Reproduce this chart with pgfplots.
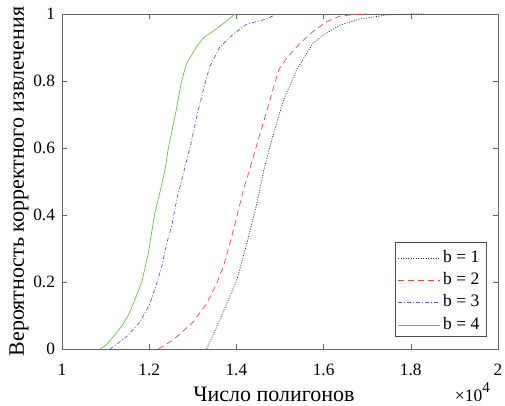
\documentclass[border=0pt]{standalone}
\usepackage{fontspec}
\setmainfont{Liberation Serif}
\usepackage{pgfplots}
\pgfplotsset{compat=1.18}

\definecolor{cb1}{RGB}{40,40,40}
\definecolor{cb2}{RGB}{238,70,70}
\definecolor{cb3}{RGB}{90,90,205}
\definecolor{cb4}{RGB}{105,195,70}

\tikzset{
  s1/.style={draw=cb1, line width=0.7pt, dash pattern=on 1pt off 1.5pt},
  s2/.style={draw=cb2, line width=0.7pt, dash pattern=on 6pt off 4pt},
  s3/.style={draw=cb3, line width=0.7pt, dash pattern=on 4pt off 2pt on 1pt off 2pt},
  s4/.style={draw=cb4, line width=0.7pt, solid},
  legtext/.style={anchor=base west, inner sep=0pt, font=\fontsize{17.5}{20}\selectfont},
}

\begin{document}
\begin{tikzpicture}
\begin{axis}[
  scale only axis,
  width=436pt, height=335pt,
  xmin=10000, xmax=20000, ymin=0, ymax=1,
  xtick={10000,12000,14000,16000,18000,20000},
  xticklabels={1,1.2,1.4,1.6,1.8,2},
  ytick={0,0.2,0.4,0.6,0.8,1},
  yticklabels={0,0.2,0.4,0.6,0.8,1},
  scaled x ticks=false,
  tick align=inside, tick pos=both,
  major tick length=5pt,
  axis line style={black!60, line width=0.6pt},
  tick style={black!60, line width=0.6pt},
  tick label style={font=\fontsize{17.3}{20}\selectfont},
  xticklabel style={anchor=base, yshift=-26pt},
  yticklabel style={anchor=east, xshift=-3.5pt},
  every axis x label/.style={at={(axis description cs:0.486,-0.1573)}, anchor=base},
  every axis y label/.style={at={(axis description cs:-0.0872,0.5)}, rotate=90, anchor=base},
  label style={font=\fontsize{22}{26}\selectfont},
  xlabel={Число полигонов},
  ylabel={Вероятность корректного извлечения},
]
% b = 1
\addplot[s1] coordinates {
(13320,0) (13550,0.067) (13780,0.136) (14010,0.206) (14240,0.315) (14470,0.435)
(14630,0.534) (14810,0.624) (15080,0.743) (15380,0.833) (15760,0.913) (15990,0.937)
(16380,0.967) (16830,0.985) (17450,0.997) (18050,1.0) (18300,1.0)};
% b = 2
\addplot[s2] coordinates {
(12210,0) (12550,0.027) (13010,0.081) (13320,0.136) (13550,0.196) (13700,0.246)
(13850,0.315) (14010,0.395) (14160,0.475) (14300,0.534) (14500,0.624) (14770,0.743)
(14970,0.833) (15150,0.868) (15460,0.913) (15760,0.948) (16070,0.977) (16380,0.994)
(16760,0.999) (17000,1.0)};
% b = 3
\addplot[s3] coordinates {
(11100,0) (11180,0.007) (11480,0.037) (11790,0.081) (12020,0.136) (12170,0.196)
(12290,0.246) (12400,0.315) (12520,0.37) (12630,0.445) (12745,0.504) (12940,0.604)
(13090,0.693) (13240,0.773) (13390,0.843) (13620,0.902) (13930,0.94) (14240,0.97)
(14690,0.985) (14920,1.0)};
% b = 4
\addplot[s4] coordinates {
(10870,0) (11000,0.01) (11180,0.037) (11350,0.065) (11520,0.10) (11670,0.146)
(11830,0.20) (11980,0.286) (12120,0.40) (12250,0.47) (12360,0.534) (12440,0.60)
(12600,0.70) (12745,0.80) (12850,0.85) (12970,0.877) (13100,0.905) (13250,0.93)
(13390,0.942) (13600,0.962) (13800,0.982) (13970,1.0)};
\end{axis}
% legend box in the lower right corner of the axis
\begin{scope}[shift={(current axis.south west)}]
  \draw[black!70, line width=0.6pt, fill=white] (333pt,13pt) rectangle (424pt,107pt);
  \draw[s1] (336pt,91pt) -- (378pt,91pt);
  \node[legtext] at (381pt,86pt) {b = 1};
  \draw[s2] (336pt,69pt) -- (378pt,69pt);
  \node[legtext] at (381pt,64pt) {b = 2};
  \draw[s3] (336pt,47pt) -- (378pt,47pt);
  \node[legtext] at (381pt,42pt) {b = 3};
  \draw[s4] (336pt,24pt) -- (378pt,24pt);
  \node[legtext] at (381pt,19pt) {b = 4};
\end{scope}
% scale factor of the x axis
\node[anchor=base east, inner sep=0pt, font=\fontsize{17.5}{20}\selectfont]
  at ([xshift=-8pt, yshift=-52.7pt]current axis.south east)
  {×10\raisebox{0.5em}{\fontsize{15}{15}\selectfont 4}};
\pgfresetboundingbox
\path (-62pt,-57pt) rectangle (443pt,349pt);
\end{tikzpicture}
\end{document}
